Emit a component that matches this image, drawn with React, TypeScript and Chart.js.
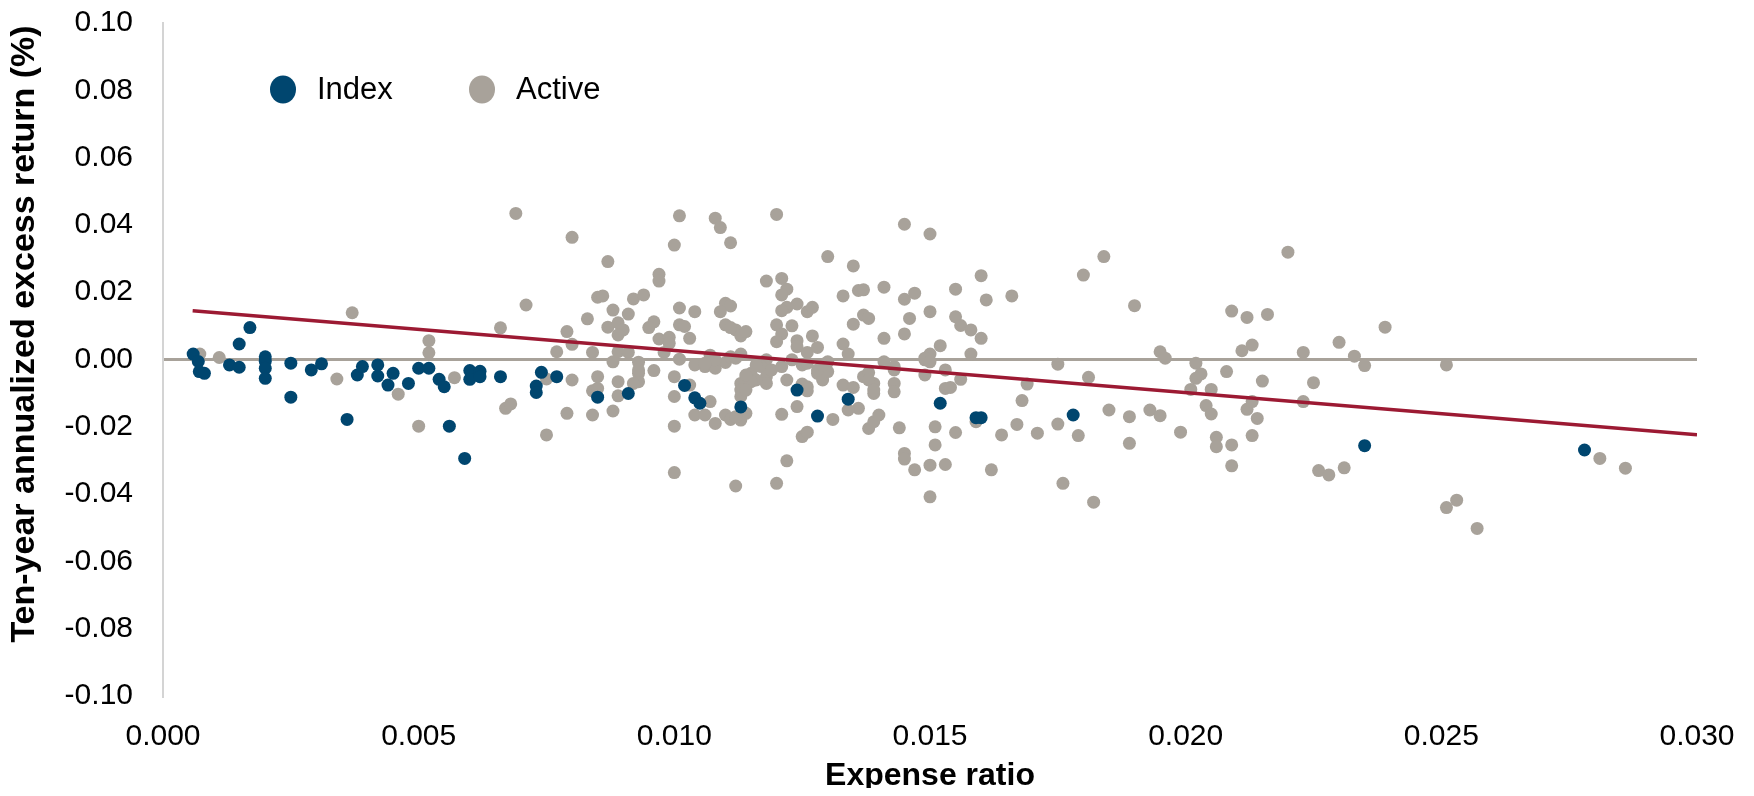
import React, { useEffect, useRef } from "react";
import { Chart, registerables } from "chart.js";

Chart.register(...registerables);

const FONT = '"Liberation Sans", Arial, Helvetica, sans-serif';
const BLUE = "#00466f";
const GRAY = "#a8a29a";
const RED = "#9c1a33";
const ZERO_LINE = "#a8a29a";
const AXIS_LINE = "#d4d4d4";

const xTickValues = [0, 0.005, 0.01, 0.015, 0.02, 0.025, 0.03];
const yTickValues = [-0.1, -0.08, -0.06, -0.04, -0.02, 0, 0.02, 0.04, 0.06, 0.08, 0.1];
const seriesNames = ["Index", "Active"];
const xTitle = "Expense ratio";
const yTitle = "Ten-year annualized excess return (%)";

// [expense ratio, ten-year annualized excess return]
const indexFunds: [number, number][] = [
  [0.00059, 0.0016], [0.00069, -0.0006], [0.00071, -0.0036], [0.00081, -0.0041], [0.0013, -0.0016],
  [0.00149, -0.0023], [0.00149, 0.0046], [0.0017, 0.0095], [0.002, 0.0008], [0.002, -0.0005],
  [0.002, -0.0026], [0.002, -0.0056], [0.0025, -0.0011], [0.0025, -0.0112], [0.0029, -0.0031],
  [0.0031, -0.0013], [0.0036, -0.0178], [0.0038, -0.0046], [0.0039, -0.0021], [0.0042, -0.0016],
  [0.0042, -0.0049], [0.0045, -0.0041], [0.0044, -0.0076], [0.0048, -0.0071], [0.005, -0.0026],
  [0.0052, -0.0026], [0.0054, -0.0059], [0.0055, -0.0081], [0.0056, -0.0198], [0.0059, -0.0294],
  [0.006, -0.0033], [0.006, -0.0059], [0.0062, -0.0035], [0.0062, -0.0051], [0.0066, -0.0051],
  [0.0073, -0.0079], [0.0073, -0.0098], [0.0074, -0.0038], [0.0077, -0.0051], [0.0085, -0.0112],
  [0.0091, -0.0101], [0.0102, -0.0077], [0.0104, -0.0114], [0.0105, -0.013], [0.0113, -0.0141],
  [0.0124, -0.0091], [0.0128, -0.0168], [0.0134, -0.0118], [0.0152, -0.013], [0.0159, -0.0173],
  [0.016, -0.0173], [0.0178, -0.0165], [0.0235, -0.0256], [0.0278, -0.0269],
];

const activeFunds: [number, number][] = [
  [0.00072, 0.0016], [0.0011, 0.0006], [0.0034, -0.0058], [0.0037, 0.0139], [0.0046, -0.0103],
  [0.005, -0.0198], [0.0052, 0.0056], [0.0052, 0.002], [0.0057, -0.0054],
  [0.0069, 0.0434], [0.008, 0.0363], [0.0087, 0.0291], [0.0101, 0.0427], [0.01, 0.034],
  [0.0097, 0.0253], [0.0097, 0.0233], [0.0071, 0.0162], [0.0085, 0.0185], [0.0086, 0.0189],
  [0.0092, 0.018], [0.0094, 0.0192], [0.0088, 0.0147], [0.0091, 0.0135], [0.0083, 0.0121],
  [0.0101, 0.0153], [0.0104, 0.0142], [0.0066, 0.0094], [0.0079, 0.0083], [0.008, 0.0045],
  [0.0077, 0.0023], [0.0084, 0.0021], [0.0087, 0.0096], [0.0089, 0.0109], [0.009, 0.0088],
  [0.0089, 0.0073], [0.0089, 0.0023], [0.0091, 0.0021], [0.0088, -0.0007], [0.0093, -0.0008],
  [0.0096, 0.0112], [0.0095, 0.0095], [0.0097, 0.0061], [0.0099, 0.0066], [0.0099, 0.0048],
  [0.0098, 0.0021], [0.0101, 0.0103], [0.0102, 0.0098], [0.0103, 0.0063], [0.0101, 0.0001],
  [0.0104, -0.0016], [0.0075, -0.0058], [0.008, -0.0061], [0.0085, -0.0051], [0.0084, -0.0093],
  [0.0085, -0.0086], [0.0089, -0.0066], [0.0089, -0.0108], [0.0093, -0.0041], [0.0093, -0.0066],
  [0.0092, -0.0071], [0.0096, -0.0033], [0.01, -0.0051], [0.01, -0.011], [0.01, -0.0198],
  [0.01, -0.0336], [0.0067, -0.0145], [0.0068, -0.0132], [0.0075, -0.0224], [0.0079, -0.016],
  [0.0084, -0.0165], [0.0088, -0.0153], [0.0104, -0.0165], [0.0093, -0.0031], [0.0112, 0.0088],
  [0.0108, 0.042], [0.0109, 0.0392], [0.0111, 0.0347], [0.012, 0.0431], [0.013, 0.0306],
  [0.0135, 0.0278], [0.0145, 0.0402], [0.015, 0.0373], [0.0118, 0.0233], [0.0121, 0.0241],
  [0.0122, 0.0209], [0.0121, 0.0192], [0.011, 0.0167], [0.0111, 0.0159], [0.0109, 0.0142],
  [0.011, 0.0103], [0.0111, 0.0095], [0.0113, 0.007], [0.0114, 0.0083], [0.0124, 0.0165],
  [0.0122, 0.0155], [0.0121, 0.0145], [0.0126, 0.0142], [0.0127, 0.0155], [0.012, 0.0103],
  [0.0123, 0.01], [0.0121, 0.0076], [0.012, 0.0053], [0.0124, 0.0056], [0.0127, 0.007],
  [0.0124, 0.0038], [0.0126, 0.0021], [0.0128, 0.0036], [0.0133, 0.0189], [0.0136, 0.0205],
  [0.0137, 0.0207], [0.0141, 0.0215], [0.0145, 0.0179], [0.0147, 0.0197], [0.015, 0.0142],
  [0.0146, 0.0122], [0.0145, 0.0076], [0.0135, 0.0105], [0.0137, 0.0132], [0.0138, 0.0122],
  [0.0141, 0.0063], [0.0133, 0.0046], [0.0134, 0.0016], [0.0152, 0.0041], [0.015, 0.0016],
  [0.0149, -0.0001], [0.0149, -0.0046], [0.0153, -0.0031], [0.0153, -0.0086], [0.0141, -0.0007],
  [0.0143, -0.0021], [0.0143, -0.0071], [0.0143, -0.0096], [0.0137, -0.0051], [0.0138, -0.0039],
  [0.0139, -0.0071], [0.0139, -0.0101], [0.0133, -0.0076], [0.0135, -0.0083], [0.0136, -0.0145],
  [0.0134, -0.015], [0.0131, -0.0178], [0.0138, -0.0205], [0.0139, -0.0185], [0.014, -0.0165],
  [0.0144, -0.0203], [0.0145, -0.0279], [0.0145, -0.0296], [0.0147, -0.0328], [0.015, -0.0314],
  [0.0151, -0.02], [0.0151, -0.0254], [0.0153, -0.0312], [0.015, -0.0408], [0.0122, -0.0301],
  [0.012, -0.0368], [0.0112, -0.0376], [0.0121, -0.0163], [0.0125, -0.0229], [0.0126, -0.0216],
  [0.0124, -0.014], [0.0126, -0.0093], [0.0125, -0.0073], [0.0122, -0.0061], [0.0128, -0.0041],
  [0.0129, -0.0061], [0.013, -0.0036], [0.013, -0.0007], [0.0125, -0.0016], [0.0118, -0.0001],
  [0.0117, -0.0021], [0.0118, -0.0051], [0.0118, -0.0071], [0.0115, -0.0041], [0.0116, -0.0061],
  [0.0114, -0.0051], [0.0113, -0.0071], [0.0113, -0.0091], [0.0106, -0.0021], [0.0108, -0.0026],
  [0.011, -0.0009], [0.0111, 0.0008], [0.0107, 0.0013], [0.0108, -0.0001], [0.0113, 0.0016],
  [0.0107, -0.0125], [0.0106, -0.0165], [0.0108, -0.019], [0.011, -0.0165], [0.0111, -0.0178],
  [0.0113, -0.018], [0.0114, -0.016], [0.0103, -0.0076],
  [0.0112, 0.0004], [0.0106, -0.0011], [0.0115, -0.0066], [0.0113, -0.011], [0.0112, -0.017],
  [0.0119, -0.0031], [0.0121, -0.0021], [0.0123, -0.0001], [0.0126, -0.0011], [0.0128, -0.0031],
  [0.0129, -0.0016], [0.0116, -0.0016], [0.0114, -0.0046], [0.0114, -0.0091], [0.0138, -0.0061],
  [0.0139, -0.0091], [0.0126, -0.0081], [0.0143, -0.0031],
  [0.016, 0.0249], [0.0155, 0.0209], [0.0161, 0.0177], [0.0166, 0.0189], [0.018, 0.0251],
  [0.0184, 0.0306], [0.019, 0.016], [0.0155, 0.0127], [0.0156, 0.0101], [0.0158, 0.0088],
  [0.016, 0.0063], [0.0158, 0.0016], [0.0154, -0.0083], [0.0156, -0.0059], [0.0175, -0.0014],
  [0.0181, -0.0053], [0.0169, -0.0073], [0.0168, -0.0122], [0.0195, 0.0023], [0.0196, 0.0004],
  [0.0202, -0.0011], [0.0202, -0.0056], [0.0201, -0.0089], [0.0185, -0.015], [0.0189, -0.017],
  [0.0189, -0.0249], [0.0193, -0.015], [0.0195, -0.0167], [0.0199, -0.0216], [0.0175, -0.0192],
  [0.0179, -0.0226], [0.0171, -0.0219], [0.0167, -0.0193], [0.0164, -0.0224], [0.0155, -0.0217],
  [0.0159, -0.0185], [0.0162, -0.0328], [0.0176, -0.0368], [0.0182, -0.0424], [0.0149, 0.0004],
  [0.015, -0.0007],
  [0.022, 0.0319], [0.0209, 0.0144], [0.0212, 0.0125], [0.0216, 0.0134], [0.0239, 0.0096],
  [0.0211, 0.0026], [0.0213, 0.0043], [0.0223, 0.0021], [0.023, 0.0051], [0.0233, 0.001],
  [0.0235, -0.0018], [0.0251, -0.0016], [0.0203, -0.0043], [0.0208, -0.0036], [0.0215, -0.0064],
  [0.0225, -0.0069], [0.0205, -0.0089], [0.0204, -0.0137], [0.0205, -0.0162], [0.0212, -0.0148],
  [0.0213, -0.0125], [0.0214, -0.0175], [0.0223, -0.0125], [0.0206, -0.0231], [0.0206, -0.0259],
  [0.0209, -0.0254], [0.0209, -0.0316], [0.0213, -0.0226], [0.0226, -0.033], [0.0228, -0.0343],
  [0.0231, -0.0322], [0.0251, -0.044],
  [0.0253, -0.0418], [0.0257, -0.0502], [0.0281, -0.0294], [0.0286, -0.0323],
];

// fitted trend line end points
const trendLine: [number, number][] = [
  [0.00058, 0.0145],
  [0.03, -0.0224],
];

const fmt = (v: number, d: number) => (Math.abs(v) < 1e-9 ? (0).toFixed(d) : v.toFixed(d));

const overlayPlugin = {
  id: "overlay",
  afterDraw(chart: any) {
    const ctx = chart.ctx as CanvasRenderingContext2D;
    const area = chart.chartArea;
    ctx.save();
    // legend (inside plot area, top-left)
    const legendY = 81.5;
    const items = [
      { label: seriesNames[0], color: BLUE, cx: 275, tx: 309 },
      { label: seriesNames[1], color: GRAY, cx: 474, tx: 508 },
    ];
    ctx.font = `31px ${FONT}`;
    ctx.textBaseline = "middle";
    ctx.textAlign = "left";
    for (const it of items) {
      ctx.fillStyle = it.color;
      ctx.beginPath();
      ctx.ellipse(it.cx, legendY, 13, 14, 0, 0, Math.PI * 2);
      ctx.fill();
      ctx.fillStyle = "#000";
      ctx.fillText(it.label, it.tx, legendY + 1);
    }
    // x title
    ctx.font = `bold 32px ${FONT}`;
    ctx.textAlign = "center";
    ctx.textBaseline = "alphabetic";
    ctx.fillText(xTitle, (area.left + area.right) / 2, 777);
    // y title
    ctx.font = `bold 34px ${FONT}`;
    ctx.translate(17, 326);
    ctx.rotate(-Math.PI / 2);
    ctx.textBaseline = "middle";
    ctx.fillText(yTitle, 0, 0);
    ctx.restore();
  },
};

export default function App() {
  const ref = useRef<HTMLCanvasElement>(null);
  useEffect(() => {
    if (!ref.current) return;
    const chart = new Chart(ref.current, {
      type: "scatter",
      data: {
        datasets: [
          {
            label: seriesNames[0],
            data: indexFunds.map(([x, y]) => ({ x, y })),
            backgroundColor: BLUE,
            borderWidth: 0,
            pointRadius: 6.5,
            pointHoverRadius: 6.5,
            order: 1,
          },
          {
            label: "Trend",
            type: "line",
            data: trendLine.map(([x, y]) => ({ x, y })),
            borderColor: RED,
            borderWidth: 3.5,
            pointRadius: 0,
            fill: false,
            order: 2,
          } as any,
          {
            label: seriesNames[1],
            data: activeFunds.map(([x, y]) => ({ x, y })),
            backgroundColor: GRAY,
            borderWidth: 0,
            pointRadius: 6.5,
            pointHoverRadius: 6.5,
            order: 3,
          },
        ],
      },
      options: {
        animation: false,
        responsive: true,
        maintainAspectRatio: false,
        events: [],
        layout: { padding: { top: 15, right: 49, left: 0, bottom: 0 } },
        plugins: { legend: { display: false }, tooltip: { enabled: false } },
        scales: {
          x: {
            type: "linear",
            min: xTickValues[0],
            max: xTickValues[xTickValues.length - 1],
            afterBuildTicks: (s: any) => {
              s.ticks = xTickValues.map((value) => ({ value }));
            },
            ticks: {
              callback: (v: any) => fmt(Number(v), 3),
              font: { family: FONT, size: 30 },
              color: "#000",
              padding: 0,
              maxRotation: 0,
              autoSkip: false,
            },
            grid: { display: false, drawTicks: true, tickLength: 23, tickColor: "rgba(0,0,0,0)" },
            border: { display: false },
            afterFit: (s: any) => {
              s.height = 92;
            },
          },
          y: {
            type: "linear",
            min: yTickValues[0],
            max: yTickValues[yTickValues.length - 1],
            afterBuildTicks: (s: any) => {
              s.ticks = yTickValues.map((value) => ({ value }));
            },
            ticks: {
              callback: (v: any) => fmt(Number(v), 2),
              font: { family: FONT, size: 30, lineHeight: 1 },
              color: "#000",
              padding: 0,
              autoSkip: false,
            },
            grid: {
              drawTicks: true,
              tickLength: 30,
              tickColor: "rgba(0,0,0,0)",
              lineWidth: 3,
              color: (c: any) => (c.tick && Math.abs(c.tick.value) < 1e-9 ? ZERO_LINE : "rgba(0,0,0,0)"),
            },
            border: { display: true, color: AXIS_LINE, width: 2 },
            afterFit: (s: any) => {
              s.width = 155;
            },
          },
        },
      },
      plugins: [overlayPlugin],
    });
    return () => chart.destroy();
  }, []);
  return (
    <div style={{ position: "relative", width: 1738, height: 780 }}>
      <canvas ref={ref} />
    </div>
  );
}
